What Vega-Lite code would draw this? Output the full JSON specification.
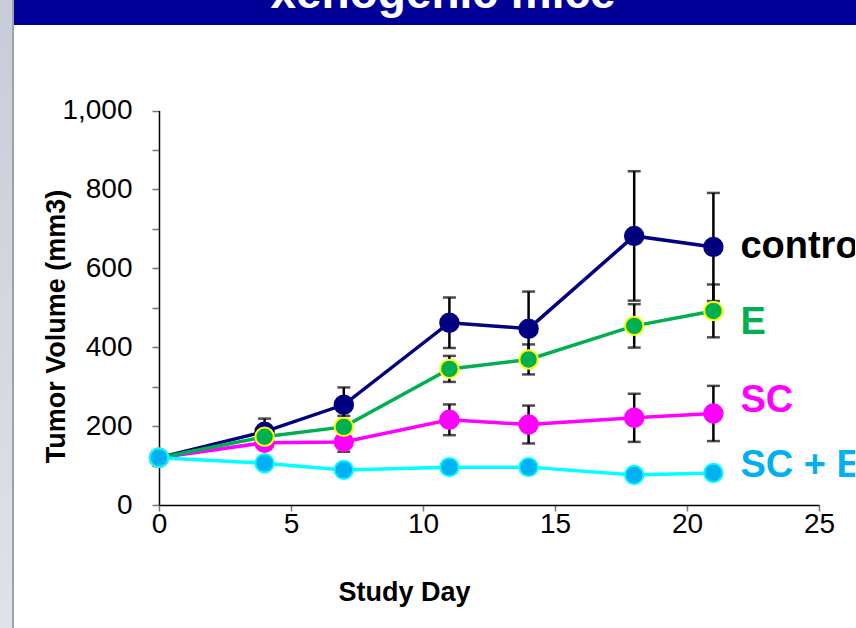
{
  "$schema": "https://vega.github.io/schema/vega-lite/v6.json",
  "padding": 0,
  "background": "white",
  "spacing": 0,
  "config": {
    "view": {"stroke": null},
    "font": "Liberation Sans",
    "concat": {"spacing": 0}
  },
  "hconcat": [
    {
      "width": 12,
      "height": 628,
      "data": {"values": [{}]},
      "mark": {
        "type": "rect",
        "color": {
          "gradient": "linear", "x1": 0, "y1": 0, "x2": 0, "y2": 1,
          "stops": [{"offset": 0, "color": "#c7ccd6"}, {"offset": 1, "color": "#dfe2ea"}]
        }
      },
      "encoding": {}
    },
    {
      "width": 2,
      "height": 628,
      "data": {"values": [{}]},
      "mark": {"type": "rect", "color": "#9da1a9"},
      "encoding": {}
    },
    {
      "spacing": 0,
      "vconcat": [
        {
          "width": 842,
          "height": 25,
          "data": {"values": [{"title": "xenogenic mice"}]},
          "layer": [
            {"mark": {"type": "rect", "color": "#000099"}, "encoding": {}},
            {
              "mark": {
                "type": "text", "color": "white", "fontSize": 46, "fontWeight": "bold",
                "baseline": "alphabetic", "dx": 8, "dy": -4.5, "clip": true
              },
              "encoding": {"text": {"field": "title"}}
            }
          ]
        },
        {
          "spacing": 0,
          "hconcat": [
            {
              "width": 28,
              "height": 480,
              "data": {"values": [{}]},
              "mark": {"type": "rect", "color": "white"},
              "encoding": {}
            },
            {
              "width": 696,
              "height": 480,
              "data": {
                "values": [
                  {"group": "control", "day": 0, "volume": 120, "sem": null},
                  {"group": "control", "day": 4, "volume": 186, "sem": 33},
                  {"group": "control", "day": 7, "volume": 254, "sem": 44},
                  {"group": "control", "day": 11, "volume": 462, "sem": 64},
                  {"group": "control", "day": 14, "volume": 447, "sem": 94},
                  {"group": "control", "day": 18, "volume": 682, "sem": 164},
                  {"group": "control", "day": 21, "volume": 654, "sem": 137},
                  {"group": "SC", "day": 0, "volume": 120, "sem": null},
                  {"group": "SC", "day": 4, "volume": 158, "sem": null},
                  {"group": "SC", "day": 7, "volume": 160, "sem": 25},
                  {"group": "SC", "day": 11, "volume": 216, "sem": 39},
                  {"group": "SC", "day": 14, "volume": 204, "sem": 48},
                  {"group": "SC", "day": 18, "volume": 221, "sem": 61},
                  {"group": "SC", "day": 21, "volume": 232, "sem": 70},
                  {"group": "E", "day": 0, "volume": 120, "sem": null},
                  {"group": "E", "day": 4, "volume": 173, "sem": null},
                  {"group": "E", "day": 7, "volume": 198, "sem": 28},
                  {"group": "E", "day": 11, "volume": 345, "sem": 33},
                  {"group": "E", "day": 14, "volume": 369, "sem": 38},
                  {"group": "E", "day": 18, "volume": 454, "sem": 55},
                  {"group": "E", "day": 21, "volume": 492, "sem": 67},
                  {"group": "SC + E", "day": 0, "volume": 120, "sem": null},
                  {"group": "SC + E", "day": 4, "volume": 106, "sem": null},
                  {"group": "SC + E", "day": 7, "volume": 89, "sem": null},
                  {"group": "SC + E", "day": 11, "volume": 96, "sem": null},
                  {"group": "SC + E", "day": 14, "volume": 96, "sem": null},
                  {"group": "SC + E", "day": 18, "volume": 76, "sem": null},
                  {"group": "SC + E", "day": 21, "volume": 81, "sem": null}
                ]
              },
              "encoding": {
                "x": {
                  "field": "day",
                  "type": "quantitative",
                  "scale": {"domain": [0, 25], "range": [0, 660], "nice": false},
                  "axis": {
                    "values": [0, 5, 10, 15, 20, 25],
                    "grid": false,
                    "labelFontSize": 28,
                    "labelColor": "black",
                    "labelPadding": -1,
                    "labelFlush": false,
                    "labelOverlap": false,
                    "tickSize": 6,
                    "tickColor": "#777777",
                    "tickWidth": 1.5,
                    "domainColor": "black",
                    "domainWidth": 1.5,
                    "title": "Study Day",
                    "titleFontSize": 27,
                    "titleFontWeight": "bold",
                    "titleColor": "black",
                    "titleX": 245,
                    "titleY": 87,
                    "titleBaseline": "middle"
                  }
                },
                "y": {
                  "field": "volume",
                  "type": "quantitative",
                  "scale": {"domain": [0, 1000], "range": [480, 85.5], "nice": false},
                  "axis": {
                    "values": [0, 100, 200, 300, 400, 500, 600, 700, 800, 900, 1000],
                    "labelExpr": "datum.value % 200 === 0 ? format(datum.value, ',') : ''",
                    "grid": false,
                    "labelFontSize": 28,
                    "labelColor": "black",
                    "labelPadding": 20,
                    "labelFlush": false,
                    "labelOverlap": false,
                    "tickSize": 7,
                    "tickColor": "#777777",
                    "tickWidth": 1.5,
                    "domainColor": "black",
                    "domainWidth": 1.5,
                    "title": "Tumor Volume (mm3)",
                    "titleFontSize": 27,
                    "titleFontWeight": "bold",
                    "titleColor": "black",
                    "titleAngle": -90,
                    "titleX": -103,
                    "titleY": 301,
                    "titleBaseline": "middle"
                  }
                }
              },
              "layer": [
                {
                  "mark": {"type": "line", "strokeWidth": 3.5},
                  "encoding": {
                    "color": {
                      "field": "group",
                      "type": "nominal",
                      "scale": {
                        "domain": ["control", "SC", "E", "SC + E"],
                        "range": ["#000080", "#FF00FF", "#00B050", "#00FFFF"]
                      },
                      "legend": null
                    }
                  }
                },
                {
                  "transform": [{"filter": "datum.sem != null"}],
                  "mark": {"type": "errorbar", "color": "black", "thickness": 2.5, "ticks": {"size": 13}},
                  "encoding": {"yError": {"field": "sem"}}
                },
                {
                  "mark": {"type": "circle", "size": 340, "strokeWidth": 2, "opacity": 1},
                  "encoding": {
                    "fill": {
                      "field": "group",
                      "type": "nominal",
                      "scale": {
                        "domain": ["control", "SC", "E", "SC + E"],
                        "range": ["#000080", "#FF00FF", "#00B050", "#00B0F0"]
                      },
                      "legend": null
                    },
                    "stroke": {
                      "field": "group",
                      "type": "nominal",
                      "scale": {
                        "domain": ["control", "SC", "E", "SC + E"],
                        "range": ["#000080", "#FF00FF", "#FFFF00", "#00FFFF"]
                      },
                      "legend": null
                    }
                  }
                },
                {
                  "transform": [{"filter": "datum.group === 'control' && datum.day === 21"}],
                  "mark": {"type": "text", "align": "left", "baseline": "middle", "dx": 27, "dy": 0, "fontSize": 38, "fontWeight": "bold", "color": "black", "clip": true},
                  "encoding": {"text": {"field": "group"}}
                },
                {
                  "transform": [{"filter": "datum.group === 'E' && datum.day === 21"}],
                  "mark": {"type": "text", "align": "left", "baseline": "middle", "dx": 27, "dy": 12, "fontSize": 38, "fontWeight": "bold", "color": "#00B050", "clip": true},
                  "encoding": {"text": {"field": "group"}}
                },
                {
                  "transform": [{"filter": "datum.group === 'SC' && datum.day === 21"}],
                  "mark": {"type": "text", "align": "left", "baseline": "middle", "dx": 27, "dy": -12, "fontSize": 38, "fontWeight": "bold", "color": "#FF00FF", "clip": true},
                  "encoding": {"text": {"field": "group"}}
                },
                {
                  "transform": [{"filter": "datum.group === 'SC + E' && datum.day === 21"}],
                  "mark": {"type": "text", "align": "left", "baseline": "middle", "dx": 27, "dy": -7, "fontSize": 38, "fontWeight": "bold", "color": "#00B0F0", "clip": true},
                  "encoding": {"text": {"field": "group"}}
                }
              ]
            }
          ]
        }
      ]
    }
  ]
}
